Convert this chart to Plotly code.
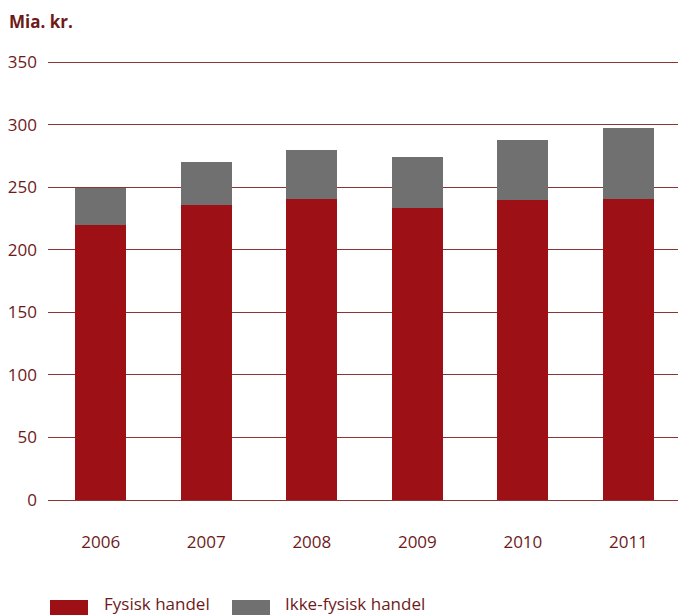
import plotly.graph_objects as go

# Trade volume, billion NOK
years = ["2006", "2007", "2008", "2009", "2010", "2011"]
fysisk = [220, 236, 240.5, 233, 240, 240.5]
ikke_fysisk = [29, 34, 39.5, 41, 48, 56.5]
y_ticks = [0, 50, 100, 150, 200, 250, 300, 350]

RED = "#9c1016"
GREY = "#707070"
TEXT = "#6e1a1a"
GRID = "#8a3434"
FONT = "Open Sans"

W, H = 678, 616
L, R, T, B = 48, 0, 59, 116
PW, PH = W - L - R, H - T - B


def px_x(x):
    return (x - L) / PW


def px_y(y):
    return (H - B - y) / PH


fig = go.Figure()
fig.add_trace(go.Bar(x=years, y=fysisk, name="Fysisk handel",
                     marker=dict(color=RED, line=dict(width=0))))
fig.add_trace(go.Bar(x=years, y=ikke_fysisk, name="Ikke-fysisk handel",
                     marker=dict(color=GREY, line=dict(width=0))))

# Legend drawn as swatches + labels below the plot
legend_items = [("Fysisk handel", RED, 50, 102), ("Ikke-fysisk handel", GREY, 232, 283)]
shapes = []
annotations = []
for label, color, sx, tx in legend_items:
    shapes.append(dict(type="rect", xref="paper", yref="paper",
                       x0=px_x(sx), x1=px_x(sx + 38), y0=px_y(600), y1=px_y(615),
                       fillcolor=color, line=dict(width=0), layer="above"))
    annotations.append(dict(text=label, xref="paper", yref="paper",
                            x=px_x(tx), y=px_y(603), xanchor="left", yanchor="middle",
                            showarrow=False, font=dict(family=FONT, size=17, color=TEXT)))

annotations.append(dict(text="<b>Mia. kr.</b>", xref="paper", yref="paper",
                        x=px_x(7), y=px_y(21), xanchor="left", yanchor="middle",
                        showarrow=False, font=dict(family=FONT, size=17, color=TEXT)))

fig.update_layout(
    width=W, height=H,
    margin=dict(l=L, r=R, t=T, b=B, pad=0),
    barmode="stack",
    bargap=0.517,
    showlegend=False,
    plot_bgcolor="white",
    paper_bgcolor="white",
    font=dict(family=FONT, size=17, color=TEXT),
    shapes=shapes,
    annotations=annotations,
    xaxis=dict(range=[-0.5, 5.47], showgrid=False, showline=False, ticks="",
               tickfont=dict(family=FONT, size=17, color=TEXT),
               ticklabelstandoff=30),
    yaxis=dict(range=[0, 352.4], tickvals=y_ticks, showgrid=True,
               gridcolor=GRID, gridwidth=1, zeroline=True, zerolinecolor=GRID,
               zerolinewidth=1, showline=False, ticks="",
               tickfont=dict(family=FONT, size=17, color=TEXT),
               ticklabelstandoff=10),
)

fig.write_html("out.html")
